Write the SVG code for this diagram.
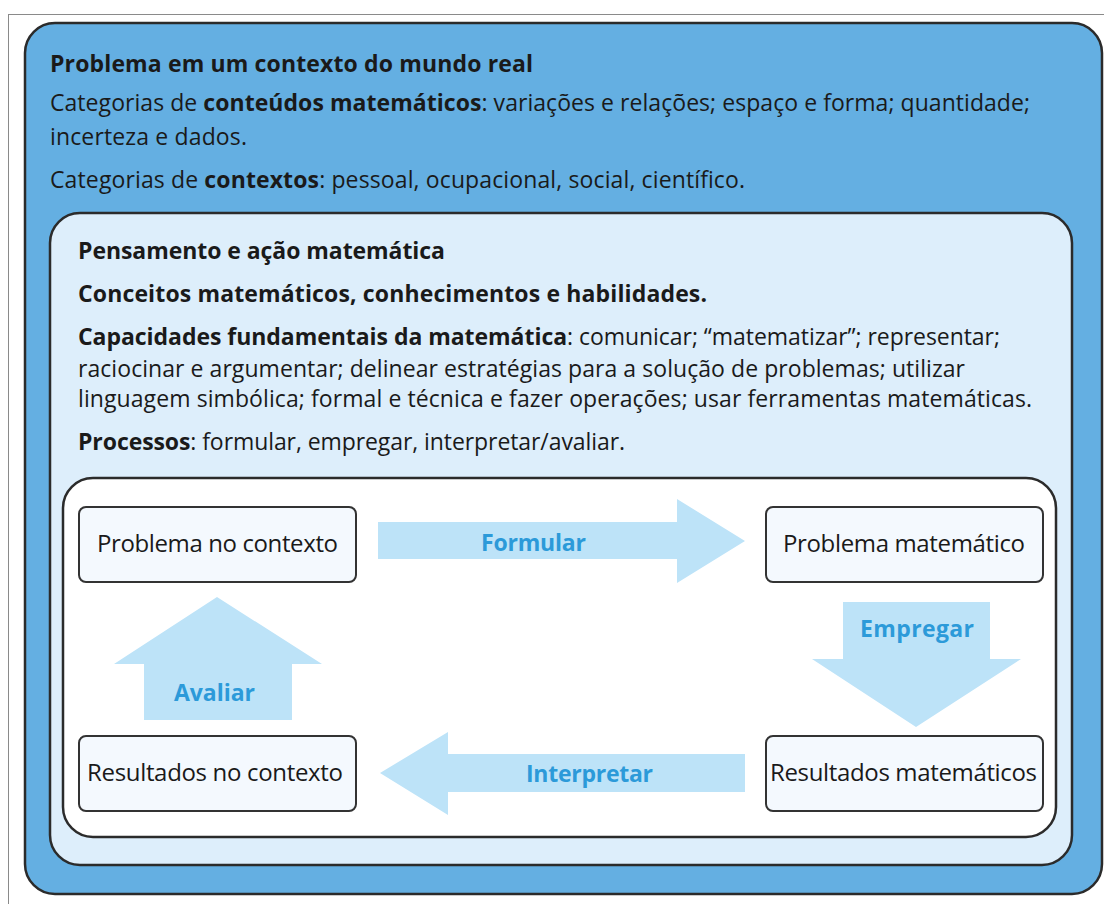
<svg xmlns="http://www.w3.org/2000/svg" width="1104" height="904" viewBox="0 0 1104 904">
<style>
  .t { font-family: "Open Sans", "Liberation Sans", sans-serif; font-size: 23px; fill: #1a1a1a; }
  .b { font-weight: bold; }
  .node rect { fill: #F4F9FE; stroke: #333333; stroke-width: 2; }
  .node text { font-family: "Open Sans", "Liberation Sans", sans-serif; font-size: 24px; fill: #1a1a1a; text-anchor: middle; }
  .arrow { fill: #BDE3F8; stroke: none; }
  .alabel { font-family: "Open Sans", "Liberation Sans", sans-serif; font-size: 23px; font-weight: bold; fill: #2C9AD9; }
</style>
<rect x="0" y="0" width="1104" height="904" fill="#ffffff"/>
<rect x="8.5" y="14.5" width="1200" height="1000" fill="none" stroke="#8a8a8a" stroke-width="1"/>

<g id="contexto-mundo-real">
  <rect x="25" y="23" width="1077" height="871" rx="30" ry="30" fill="#64AFE2" stroke="#2b2b2b" stroke-width="2.5"/>
  <text class="t b" x="50" y="72" textLength="483">Problema em um contexto do mundo real</text>
  <text class="t" x="50" y="111" textLength="980">Categorias de <tspan class="b">conteúdos matemáticos</tspan>: variações e relações; espaço e forma; quantidade;</text>
  <text class="t" x="50" y="145" textLength="197">incerteza e dados.</text>
  <text class="t" x="50" y="188" textLength="695">Categorias de <tspan class="b">contextos</tspan>: pessoal, ocupacional, social, científico.</text>
</g>

<g id="pensamento-acao">
  <rect x="50" y="213" width="1022" height="652" rx="30" ry="30" fill="#DDEEFB" stroke="#2b2b2b" stroke-width="2.5"/>
  <text class="t b" x="78" y="259" textLength="367">Pensamento e ação matemática</text>
  <text class="t b" x="78" y="302" textLength="629">Conceitos matemáticos, conhecimentos e habilidades.</text>
  <text class="t" x="78" y="345" textLength="922"><tspan class="b">Capacidades fundamentais da matemática</tspan>: comunicar; “matematizar”; representar;</text>
  <text class="t" x="78" y="377" textLength="887">raciocinar e argumentar; delinear estratégias para a solução de problemas; utilizar</text>
  <text class="t" x="78" y="407" textLength="954">linguagem simbólica; formal e técnica e fazer operações; usar ferramentas matemáticas.</text>
  <text class="t" x="78" y="450" textLength="547"><tspan class="b">Processos</tspan>: formular, empregar, interpretar/avaliar.</text>
</g>

<g id="ciclo">
  <rect x="63" y="478" width="993" height="359" rx="30" ry="30" fill="#ffffff" stroke="#2b2b2b" stroke-width="2.5"/>
</g>

<g id="connectors">
  <g id="arrow-formular">
    <polygon class="arrow" points="378,522 677,522 677,499 745,541 677,583 677,559 378,559"/>
    <text class="alabel" x="533.5" y="551" text-anchor="middle" textLength="105">Formular</text>
  </g>
  <g id="arrow-empregar">
    <polygon class="arrow" points="843,602 990,602 990,659 1021,659 916,727 812,659 843,659"/>
    <text class="alabel" x="917" y="637" text-anchor="middle" textLength="114">Empregar</text>
  </g>
  <g id="arrow-interpretar">
    <polygon class="arrow" points="745,754 448,754 448,732 380,773 448,815 448,792 745,792"/>
    <text class="alabel" x="589.5" y="782" text-anchor="middle" textLength="127">Interpretar</text>
  </g>
  <g id="arrow-avaliar">
    <polygon class="arrow" points="144,720 144,664 114,664 217,597 322,664 292,664 292,720"/>
    <text class="alabel" x="214.5" y="701" text-anchor="middle" textLength="81">Avaliar</text>
  </g>
</g>

<g id="node-problema-contexto" class="node">
  <rect x="79" y="507" width="277" height="75" rx="7" ry="7"/>
  <text x="217.5" y="552" textLength="241">Problema no contexto</text>
</g>
<g id="node-problema-matematico" class="node">
  <rect x="766" y="507" width="277" height="75" rx="7" ry="7"/>
  <text x="904" y="552" textLength="242">Problema matemático</text>
</g>
<g id="node-resultados-contexto" class="node">
  <rect x="79" y="736" width="277" height="75" rx="7" ry="7"/>
  <text x="215" y="781" textLength="256">Resultados no contexto</text>
</g>
<g id="node-resultados-matematicos" class="node">
  <rect x="766" y="736" width="277" height="75" rx="7" ry="7"/>
  <text x="903.5" y="781" textLength="267">Resultados matemáticos</text>
</g>
</svg>
